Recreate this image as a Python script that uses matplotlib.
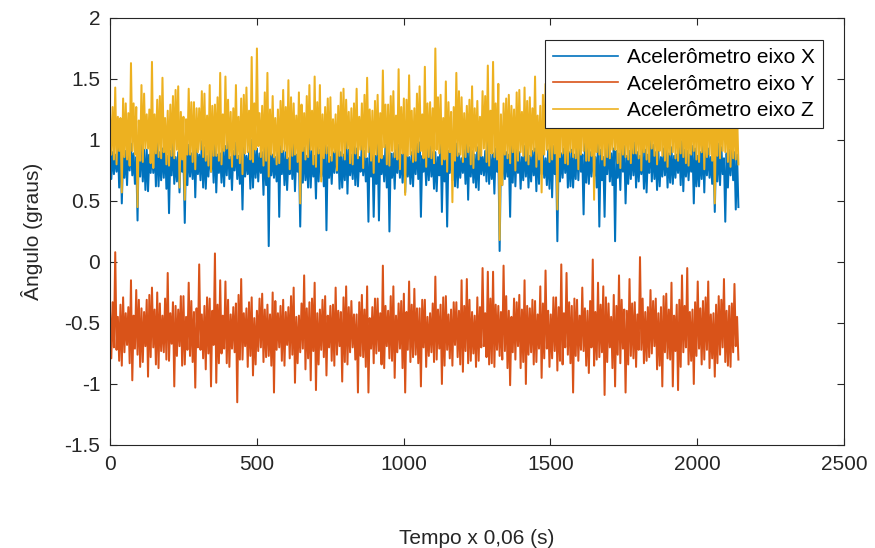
import matplotlib
matplotlib.use("Agg")
import matplotlib.pyplot as plt
import numpy as np

# ultimo indice de amostra (tempo x 0,06 s)
n_amostras = 2140

# picos (hi) e vales (lo), alternados ao longo do tempo
# Acelerometro eixo X
x_hi = [0.95, 0.90, 0.88, 0.97, 1.02, 0.87, 0.91, 0.94, 0.97, 0.89, 0.86, 1.01, 1.00, 0.92, 0.92, 0.88, 0.89, 0.96, 1.04, 0.90,
        0.93, 0.98, 0.87, 0.91, 0.99, 0.86, 0.90, 0.95, 0.85, 0.93, 0.96, 0.89, 1.01, 0.94, 0.88, 0.99, 0.94, 0.87, 0.91, 0.96,
        1.03, 0.88, 0.89, 0.93, 0.95, 1.00, 0.86, 0.91, 0.98, 0.87, 0.92, 0.95, 0.87, 0.90, 1.00, 0.94, 0.93, 0.89, 0.90, 0.97,
        0.96, 0.92, 0.88, 0.86, 1.02, 0.95, 0.91, 0.90, 0.85, 0.98, 0.97, 0.88, 0.89, 0.93, 0.94, 0.87, 1.01, 0.91, 0.87, 0.96,
        0.92, 0.89, 0.99, 0.94, 0.86, 0.90, 0.95, 0.97, 0.90, 0.88, 1.03, 0.92, 0.88, 0.95, 0.93, 0.86, 0.97, 0.91, 0.85, 0.99,
        0.91, 0.87, 1.00, 0.93, 0.87, 0.96, 0.94, 0.89, 0.89, 0.92, 0.96, 0.88, 1.02, 0.94, 0.86, 0.90, 0.92, 0.97, 0.98, 0.87,
        0.88, 0.93, 0.95, 0.90, 0.90, 0.86, 1.01, 0.95, 0.87, 0.91, 0.93, 0.98, 0.97, 0.89, 0.85, 0.92, 0.99, 0.94, 0.91, 0.88,
        0.94, 0.96, 0.86, 0.91, 1.03, 0.88, 0.89, 0.93, 0.92, 0.87, 0.96, 0.90, 0.88, 0.97, 1.00, 0.92, 0.90, 0.86, 0.95, 0.94,
        0.87, 0.91, 0.93, 0.98, 0.98, 0.89, 0.85, 0.92, 1.01, 0.95, 0.91, 0.87, 0.89, 0.93, 0.96, 0.90, 0.92, 0.88, 1.02, 0.94,
        0.88, 0.97, 0.94, 0.90, 0.90, 0.86, 0.97, 0.92, 0.86, 0.95, 1.00, 0.89, 0.93, 0.91, 0.89, 0.98, 0.95, 0.87, 0.91, 0.93,
        0.98, 0.90, 0.87, 0.94, 0.92, 0.88, 1.03, 0.96, 0.90, 0.91, 0.86, 0.93, 0.96, 0.89, 0.94, 0.87, 0.88, 0.95, 0.99, 0.92,
        0.91, 0.88, 0.95, 0.93, 0.87, 0.90, 1.01, 0.97, 0.93, 0.86, 0.89, 0.92, 0.97, 0.94, 0.85, 0.89, 0.92, 0.96, 0.90, 0.88]
x_lo = [0.68, 0.72, 0.74, 0.61, 0.48, 0.69, 0.63, 0.75, 0.71, 0.64, 0.34, 0.70, 0.66, 0.59, 0.58, 0.73, 0.73, 0.62, 0.62, 0.67,
        0.69, 0.60, 0.40, 0.71, 0.64, 0.66, 0.57, 0.74, 0.32, 0.63, 0.70, 0.68, 0.53, 0.72, 0.67, 0.61, 0.60, 0.70, 0.74, 0.65,
        0.57, 0.73, 0.65, 0.62, 0.71, 0.68, 0.59, 0.75, 0.68, 0.64, 0.43, 0.70, 0.72, 0.60, 0.61, 0.69, 0.66, 0.73, 0.55, 0.63,
        0.13, 0.71, 0.69, 0.66, 0.37, 0.72, 0.63, 0.59, 0.72, 0.68, 0.58, 0.74, 0.29, 0.65, 0.67, 0.61, 0.61, 0.70, 0.52, 0.66,
        0.70, 0.62, 0.26, 0.69, 0.64, 0.73, 0.73, 0.60, 0.61, 0.67, 0.56, 0.71, 0.68, 0.63, 0.62, 0.74, 0.71, 0.66, 0.33, 0.70,
        0.37, 0.64, 0.34, 0.72, 0.66, 0.61, 0.25, 0.69, 0.60, 0.73, 0.69, 0.65, 0.57, 0.70, 0.64, 0.62, 0.72, 0.68, 0.37, 0.74,
        0.63, 0.67, 0.70, 0.60, 0.58, 0.71, 0.41, 0.66, 0.29, 0.73, 0.67, 0.62, 0.61, 0.69, 0.73, 0.64, 0.51, 0.70, 0.65, 0.61,
        0.59, 0.72, 0.71, 0.66, 0.64, 0.68, 0.56, 0.74, 0.09, 0.63, 0.68, 0.70, 0.37, 0.65, 0.62, 0.73, 0.60, 0.67, 0.70, 0.61,
        0.66, 0.71, 0.58, 0.64, 0.72, 0.69, 0.63, 0.60, 0.53, 0.72, 0.17, 0.66, 0.69, 0.73, 0.61, 0.62, 0.61, 0.68, 0.67, 0.74,
        0.39, 0.65, 0.64, 0.70, 0.70, 0.61, 0.29, 0.67, 0.37, 0.72, 0.66, 0.63, 0.17, 0.69, 0.59, 0.74, 0.48, 0.64, 0.68, 0.71,
        0.61, 0.66, 0.72, 0.60, 0.57, 0.73, 0.66, 0.68, 0.59, 0.62, 0.70, 0.71, 0.61, 0.65, 0.64, 0.69, 0.73, 0.63, 0.58, 0.70,
        0.67, 0.74, 0.48, 0.62, 0.62, 0.68, 0.57, 0.71, 0.69, 0.64, 0.41, 0.66, 0.63, 0.72, 0.33, 0.61, 0.71, 0.67, 0.43, 0.45]

# Acelerometro eixo Y
y_hi = [-0.40, -0.33, 0.08, -0.45, -0.35, -0.29, -0.42, -0.37, -0.15, -0.44, -0.23, -0.31, -0.38, -0.41, -0.31, -0.27, -0.21, -0.39, -0.25, -0.34,
        -0.44, -0.30, -0.09, -0.42, -0.33, -0.36, -0.39, -0.28, -0.28, -0.45, -0.17, -0.32, -0.41, -0.38, -0.02, -0.43, -0.36, -0.29, -0.30, -0.40,
        0.07, -0.35, -0.15, -0.44, -0.16, -0.31, -0.43, -0.37, -0.34, -0.27, -0.14, -0.42, -0.38, -0.33, -0.29, -0.46, -0.40, -0.30, -0.26, -0.39,
        -0.35, -0.43, -0.25, -0.32, -0.42, -0.36, -0.31, -0.41, -0.37, -0.28, -0.21, -0.45, -0.44, -0.34, -0.11, -0.38, -0.33, -0.30, -0.17, -0.42,
        -0.39, -0.31, -0.28, -0.44, -0.36, -0.35, -0.21, -0.40, -0.41, -0.29, -0.20, -0.37, -0.32, -0.43, -0.43, -0.33, -0.27, -0.39, -0.20, -0.46,
        -0.37, -0.30, -0.30, -0.42, -0.03, -0.36, -0.40, -0.28, -0.20, -0.44, -0.34, -0.32, -0.26, -0.41, -0.16, -0.35, -0.22, -0.38, -0.38, -0.31,
        -0.31, -0.45, -0.42, -0.34, -0.12, -0.39, -0.35, -0.29, -0.28, -0.43, -0.39, -0.33, -0.33, -0.40, -0.15, -0.36, -0.14, -0.31, -0.41, -0.44,
        -0.29, -0.37, -0.05, -0.42, -0.08, -0.30, -0.08, -0.35, -0.36, -0.41, -0.03, -0.28, -0.40, -0.45, -0.30, -0.33, -0.27, -0.39, -0.15, -0.36,
        -0.38, -0.31, -0.32, -0.43, -0.20, -0.34, -0.07, -0.40, -0.43, -0.29, -0.29, -0.37, -0.02, -0.42, -0.09, -0.33, -0.36, -0.30, -0.31, -0.44,
        -0.21, -0.38, -0.40, -0.32, 0.02, -0.41, -0.17, -0.35, -0.20, -0.29, -0.34, -0.45, -0.27, -0.36, -0.11, -0.31, -0.39, -0.40, -0.14, -0.34,
        -0.33, -0.43, 0.04, -0.30, -0.41, -0.37, -0.23, -0.32, -0.30, -0.42, -0.37, -0.28, -0.26, -0.39, -0.17, -0.44, -0.35, -0.31, -0.11, -0.36,
        -0.05, -0.41, -0.39, -0.33, -0.16, -0.38, -0.32, -0.29, -0.16, -0.43, -0.42, -0.35, -0.28, -0.31, -0.14, -0.40, -0.36, -0.34, -0.18, -0.45]
y_lo = [-0.79, -0.70, -0.72, -0.81, -0.85, -0.74, -0.68, -0.83, -0.97, -0.71, -0.76, -0.86, -0.82, -0.69, -0.94, -0.78, -0.70, -0.84, -0.87, -0.73,
        -0.74, -0.80, -0.81, -0.67, -1.02, -0.77, -0.69, -0.85, -0.84, -0.72, -0.77, -0.82, -1.03, -0.70, -0.72, -0.79, -0.88, -0.75, -1.02, -0.68,
        -0.99, -0.83, -0.75, -0.71, -0.83, -0.86, -0.71, -0.74, -1.15, -0.80, -0.80, -0.69, -0.86, -0.77, -0.93, -0.84, -0.73, -0.70, -0.82, -0.78,
        -0.77, -0.85, -1.07, -0.72, -0.70, -0.81, -0.85, -0.68, -0.79, -0.76, -0.99, -0.83, -0.74, -0.71, -0.88, -0.79, -0.97, -0.73, -1.05, -0.84,
        -0.72, -0.78, -0.93, -0.70, -0.81, -0.85, -0.76, -0.69, -0.98, -0.82, -0.84, -0.74, -0.70, -0.80, -1.07, -0.77, -0.78, -0.86, -1.07, -0.71,
        -0.83, -0.75, -0.73, -0.84, -0.87, -0.69, -0.79, -0.81, -0.95, -0.74, -0.71, -0.87, -1.07, -0.72, -0.82, -0.78, -0.76, -0.83, -1.02, -0.70,
        -0.86, -0.77, -0.74, -0.82, -0.80, -0.71, -1.00, -0.85, -0.72, -0.79, -0.85, -0.68, -0.78, -0.84, -0.90, -0.73, -0.83, -0.81, -0.75, -0.86,
        -0.81, -0.70, -0.69, -0.78, -0.84, -0.83, -0.86, -0.72, -0.77, -0.80, -0.73, -0.87, -1.01, -0.74, -0.80, -0.69, -0.87, -0.82, -1.00, -0.76,
        -0.74, -0.84, -0.82, -0.71, -0.95, -0.79, -0.71, -0.86, -0.79, -0.73, -0.89, -0.81, -0.84, -0.70, -0.76, -0.83, -1.07, -0.77, -0.81, -0.72,
        -0.73, -0.85, -0.91, -0.70, -0.85, -0.80, -0.78, -0.74, -1.09, -0.82, -0.70, -0.87, -1.02, -0.76, -0.83, -0.71, -1.07, -0.84, -0.77, -0.79,
        -0.86, -0.72, -0.72, -0.83, -0.81, -0.78, -0.75, -0.69, -0.88, -0.85, -1.02, -0.74, -0.79, -0.80, -1.02, -0.73, -1.05, -0.86, -0.74, -0.70,
        -0.84, -0.81, -1.00, -0.77, -0.71, -0.84, -0.80, -0.72, -0.87, -0.79, -0.94, -0.83, -0.76, -0.70, -0.82, -0.85, -0.86, -0.74, -0.69, -0.80]

# Acelerometro eixo Z
z_hi = [1.22, 1.27, 1.43, 1.19, 1.18, 1.34, 1.30, 1.22, 1.63, 1.30, 1.27, 1.16, 1.45, 1.38, 1.21, 1.25, 1.64, 1.21, 1.33, 1.36,
        1.51, 1.18, 1.24, 1.29, 1.36, 1.41, 1.44, 1.23, 1.19, 1.17, 1.42, 1.31, 1.31, 1.26, 1.26, 1.40, 1.38, 1.20, 1.45, 1.28,
        1.29, 1.35, 1.55, 1.21, 1.52, 1.33, 1.23, 1.26, 1.45, 1.19, 1.34, 1.37, 1.43, 1.24, 1.68, 1.30, 1.75, 1.22, 1.28, 1.39,
        1.55, 1.25, 1.36, 1.18, 1.25, 1.32, 1.41, 1.27, 1.49, 1.35, 1.30, 1.20, 1.39, 1.29, 1.22, 1.36, 1.45, 1.24, 1.52, 1.31,
        1.45, 1.21, 1.27, 1.34, 1.35, 1.17, 1.21, 1.28, 1.39, 1.42, 1.33, 1.23, 1.26, 1.30, 1.42, 1.19, 1.30, 1.37, 1.51, 1.25,
        1.24, 1.32, 1.37, 1.22, 1.57, 1.29, 1.29, 1.36, 1.40, 1.20, 1.58, 1.27, 1.34, 1.33, 1.53, 1.24, 1.26, 1.38, 1.44, 1.21,
        1.60, 1.30, 1.31, 1.26, 1.75, 1.35, 1.37, 1.18, 1.48, 1.31, 1.23, 1.27, 1.55, 1.40, 1.35, 1.22, 1.28, 1.33, 1.44, 1.26,
        1.32, 1.19, 1.40, 1.36, 1.61, 1.24, 1.64, 1.30, 1.46, 1.21, 1.30, 1.34, 1.37, 1.28, 1.25, 1.39, 1.41, 1.23, 1.43, 1.32,
        1.35, 1.26, 1.52, 1.20, 1.28, 1.37, 1.46, 1.29, 1.39, 1.33, 1.31, 1.24, 1.55, 1.30, 1.27, 1.36, 1.43, 1.22, 1.36, 1.28,
        1.48, 1.34, 1.30, 1.21, 1.41, 1.38, 1.25, 1.27, 1.50, 1.31, 1.38, 1.23, 1.33, 1.35, 1.47, 1.26, 1.29, 1.32, 1.44, 1.20,
        1.36, 1.29, 1.52, 1.24, 1.27, 1.37, 1.40, 1.30, 1.34, 1.22, 1.49, 1.33, 1.31, 1.27, 1.43, 1.35, 1.26, 1.21, 1.45, 1.31,
        1.38, 1.25, 1.30, 1.34, 1.51, 1.28, 1.35, 1.23, 1.42, 1.36, 1.28, 1.30, 1.46, 1.24, 1.33, 1.32, 1.40, 1.27, 1.29, 1.22]
z_lo = [0.88, 0.84, 0.80, 0.91, 0.57, 0.86, 0.84, 0.79, 0.91, 0.88, 0.45, 0.83, 0.82, 0.93, 0.93, 0.81, 0.77, 0.89, 0.86, 0.85,
        0.90, 0.80, 0.79, 0.87, 0.85, 0.92, 0.61, 0.84, 0.51, 0.88, 0.88, 0.82, 0.76, 0.90, 0.92, 0.86, 0.83, 0.79, 0.74, 0.87,
        0.87, 0.83, 0.80, 0.91, 0.93, 0.85, 0.78, 0.88, 0.85, 0.81, 0.72, 0.89, 0.90, 0.84, 0.82, 0.92, 0.95, 0.86, 0.79, 0.83,
        0.70, 0.88, 0.86, 0.80, 0.81, 0.90, 0.91, 0.85, 0.76, 0.87, 0.88, 0.82, 0.48, 0.91, 0.84, 0.86, 0.92, 0.80, 0.78, 0.89,
        0.66, 0.85, 0.89, 0.82, 0.83, 0.90, 0.75, 0.87, 0.87, 0.84, 0.93, 0.81, 0.80, 0.89, 0.85, 0.92, 0.77, 0.86, 0.90, 0.83,
        0.73, 0.88, 0.82, 0.85, 0.94, 0.80, 0.79, 0.91, 0.86, 0.84, 0.76, 0.89, 0.55, 0.87, 0.88, 0.82, 0.83, 0.90, 0.91, 0.85,
        0.78, 0.86, 0.85, 0.81, 0.92, 0.89, 0.80, 0.84, 0.74, 0.90, 0.49, 0.83, 0.87, 0.88, 0.82, 0.86, 0.90, 0.80, 0.77, 0.91,
        0.84, 0.87, 0.93, 0.82, 0.79, 0.89, 0.86, 0.84, 0.18, 0.63, 0.88, 0.85, 0.81, 0.90, 0.75, 0.83, 0.90, 0.87, 0.83, 0.80,
        0.87, 0.91, 0.78, 0.84, 0.57, 0.88, 0.92, 0.82, 0.84, 0.89, 0.43, 0.86, 0.89, 0.81, 0.80, 0.90, 0.86, 0.85, 0.76, 0.88,
        0.91, 0.83, 0.83, 0.87, 0.51, 0.90, 0.88, 0.84, 0.79, 0.86, 0.85, 0.92, 0.92, 0.81, 0.77, 0.88, 0.86, 0.84, 0.81, 0.89,
        0.89, 0.85, 0.75, 0.90, 0.84, 0.82, 0.93, 0.87, 0.80, 0.91, 0.87, 0.83, 0.78, 0.88, 0.90, 0.85, 0.83, 0.89, 0.86, 0.81,
        0.79, 0.88, 0.91, 0.84, 0.82, 0.90, 0.76, 0.86, 0.88, 0.83, 0.48, 0.87, 0.85, 0.91, 0.90, 0.82, 0.78, 0.85, 0.84, 0.80]

nomes = ["Acelerômetro eixo X", "Acelerômetro eixo Y", "Acelerômetro eixo Z"]
cores = ["#0072BD", "#D95319", "#EDB120"]

x_ticks = [0, 500, 1000, 1500, 2000, 2500]
y_ticks = [-1.5, -1, -0.5, 0, 0.5, 1, 1.5, 2]
y_tick_labels = ["-1.5", "-1", "-0.5", "0", "0.5", "1", "1.5", "2"]


def serie(picos, vales):
    # intercala pico, vale, pico, vale...
    y = np.empty(2 * len(picos))
    y[0::2] = picos
    y[1::2] = vales
    return y


plt.rcParams["font.family"] = ["Liberation Sans", "DejaVu Sans"]
cinza = "#262626"

fig = plt.figure(figsize=(8.75, 5.48), dpi=100)
ax = fig.add_axes([0.1257, 0.188, 0.839, 0.7792])

t = np.linspace(0, n_amostras, 2 * len(x_hi))
dados = [(x_hi, x_lo), (y_hi, y_lo), (z_hi, z_lo)]
for (hi, lo), nome, cor in zip(dados, nomes, cores):
    ax.plot(t, serie(hi, lo), color=cor, lw=1.45, label=nome)

ax.set_xlim(0, 2500)
ax.set_ylim(-1.5, 2)
ax.set_xticks(x_ticks)
ax.set_xticklabels([str(v) for v in x_ticks])
ax.set_yticks(y_ticks)
ax.set_yticklabels(y_tick_labels)
ax.tick_params(direction="in", length=5, width=0.8, top=True, right=True,
               labelsize=15, colors=cinza, pad=7)
for s in ax.spines.values():
    s.set_color(cinza)
    s.set_linewidth(0.8)

ax.set_xlabel("Tempo x 0,06 (s)", fontsize=15, color=cinza, labelpad=40)
ax.set_ylabel("Ângulo (graus)", fontsize=15, color=cinza, labelpad=15)

leg = ax.legend(loc="upper right", bbox_to_anchor=(0.9714, 0.9485),
                borderaxespad=0, fontsize=15, fancybox=False, framealpha=1,
                edgecolor=cinza, borderpad=0.4, labelspacing=0.35,
                handlelength=3.1, handletextpad=0.45)
leg.get_frame().set_linewidth(0.8)
for linha in leg.get_lines():
    linha.set_linewidth(1.2)

fig.savefig("out.png", dpi=100)
